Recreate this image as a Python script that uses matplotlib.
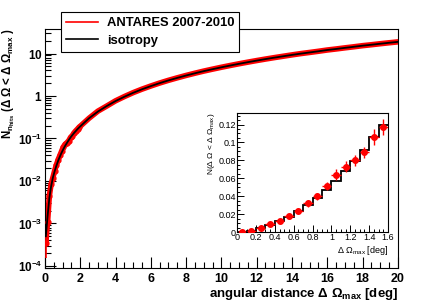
import matplotlib
matplotlib.use('Agg')
import matplotlib.pyplot as plt
import numpy as np
from matplotlib.ticker import MultipleLocator, FixedLocator, FuncFormatter, NullFormatter

plt.rcParams['font.family'] = ['Liberation Sans', 'DejaVu Sans']
plt.rcParams['mathtext.fontset'] = 'custom'
plt.rcParams['mathtext.rm'] = 'Liberation Sans'
plt.rcParams['mathtext.bf'] = 'Liberation Sans:bold'
plt.rcParams['mathtext.default'] = 'regular'

# fine bins (0.1 deg) up to 2 deg, coarser reading beyond
x_fine = [0.05, 0.15, 0.25, 0.35, 0.45, 0.55, 0.65, 0.75, 0.85, 0.95,
          1.05, 1.15, 1.25, 1.35, 1.45, 1.55, 1.65, 1.75, 1.85, 1.95]
iso_fine = [0.0005, 0.0015, 0.004, 0.0075, 0.012, 0.017, 0.023, 0.030, 0.038, 0.047,
            0.057, 0.068, 0.079, 0.092, 0.106, 0.120, 0.135, 0.150, 0.167, 0.184]
data_fine = [0.00035, 0.0011, 0.0045, 0.0085, 0.012, 0.0175, 0.024, 0.032, 0.040, 0.051,
             0.064, 0.073, 0.080, 0.089, 0.106, 0.117, 0.136, 0.152, 0.168, 0.186]
err_fine = [0.0002, 0.0008, 0.0015, 0.002, 0.0022, 0.0025, 0.003, 0.0035, 0.004, 0.0045,
            0.006, 0.006, 0.006, 0.006, 0.009, 0.009, 0.009, 0.01, 0.01, 0.011]

x_coarse = [2.5, 3, 3.5, 4, 4.5, 5, 5.5, 6, 6.5, 7, 7.5, 8, 8.5, 9, 9.5, 10,
            10.5, 11, 11.5, 12, 12.5, 13, 13.5, 14, 14.5, 15, 15.5, 16, 16.5,
            17, 17.5, 18, 18.5, 19, 19.5, 20]
iso_coarse = [0.30, 0.43, 0.58, 0.76, 0.96, 1.19, 1.44, 1.71, 2.01, 2.33, 2.67, 3.04,
              3.43, 3.85, 4.28, 4.74, 5.22, 5.73, 6.26, 6.82, 7.40, 8.00, 8.62, 9.28,
              9.95, 10.6, 11.3, 12.1, 12.8, 13.6, 14.4, 15.3, 16.1, 17.0, 17.9, 18.8]
data_coarse = [0.30, 0.44, 0.58, 0.77, 0.97, 1.20, 1.45, 1.72, 2.02, 2.34, 2.68, 3.05,
               3.44, 3.86, 4.29, 4.75, 5.23, 5.74, 6.27, 6.83, 7.41, 8.01, 8.63, 9.29,
               9.96, 10.6, 11.3, 12.1, 12.8, 13.6, 14.4, 15.3, 16.1, 17.0, 17.9, 18.8]

# inset: first 16 bins
ins_n = 16
ins_edges = [0.0, 0.1, 0.2, 0.3, 0.4, 0.5, 0.6, 0.7, 0.8, 0.9, 1.0, 1.1, 1.2, 1.3, 1.4, 1.5, 1.6]

fig = plt.figure(figsize=(4.45, 3.01), dpi=100)
ax = fig.add_axes([0.101, 0.110, 0.793, 0.794])

x_all = x_fine + x_coarse
ax.plot(x_all, data_fine + data_coarse, color='red', lw=4, solid_capstyle='round', zorder=2)
ax.errorbar(x_fine, data_fine, yerr=err_fine, xerr=0.05, fmt='o', color='red', ms=3.5,
            elinewidth=1.2, capsize=0, zorder=3)
ax.plot(x_all, iso_fine + iso_coarse, color='black', lw=1.3, zorder=4)

ax.set_yscale('log')
ax.set_xlim(0, 20)
ax.set_ylim(9e-5, 38)

ax.xaxis.set_major_locator(MultipleLocator(2))
ax.xaxis.set_minor_locator(MultipleLocator(0.5))
ax.yaxis.set_major_locator(FixedLocator([1e-4, 1e-3, 1e-2, 1e-1, 1, 10]))
ax.yaxis.set_minor_formatter(NullFormatter())


def ylab(v, pos):
    if v >= 1:
        return r'$\mathbf{%d}$' % int(round(v))
    return r'$\mathbf{10^{%d}}$' % int(round(np.log10(v)))


ax.yaxis.set_major_formatter(FuncFormatter(ylab))
ax.tick_params(which='both', direction='in', top=False, right=False, labelsize=9)
ax.tick_params(axis='y', labelsize=8.5, pad=2)
ax.tick_params(which='major', length=8, width=0.8)
ax.tick_params(which='minor', length=4, width=0.8)
for lab in ax.get_xticklabels():
    lab.set_fontweight('bold')

ax.set_xlabel(r'angular distance Δ Ω$_{max}$ [deg]', fontsize=9.5, fontweight='bold',
              loc='right', labelpad=1)
ax.set_ylabel(r'N$_{n_{hits}}$ (Δ Ω < Δ Ω$_{max}$ )', fontsize=8.3, fontweight='bold',
              loc='top')
ax.yaxis.set_label_coords(-0.078, 1.0)

# inset
axi = fig.add_axes([0.533, 0.229, 0.339, 0.396])
axi.stairs(iso_fine[:ins_n], ins_edges, color='black', lw=1.3, baseline=None, zorder=2)
axi.errorbar(x_fine[:ins_n], data_fine[:ins_n], yerr=err_fine[:ins_n], xerr=0.05, fmt='o',
             color='red', ms=4, elinewidth=1.0, capsize=0, zorder=3)
axi.set_xlim(0, 1.6)
axi.set_ylim(0, 0.133)
axi.xaxis.set_major_locator(MultipleLocator(0.2))
axi.xaxis.set_minor_locator(MultipleLocator(0.05))
axi.yaxis.set_major_locator(MultipleLocator(0.02))
axi.yaxis.set_minor_locator(MultipleLocator(0.005))
axi.xaxis.set_major_formatter(FuncFormatter(lambda v, p: '%g' % round(v, 2)))
axi.yaxis.set_major_formatter(FuncFormatter(lambda v, p: '%g' % round(v, 3)))
axi.tick_params(which='both', direction='in', top=False, right=False, labelsize=6.5, pad=1)
axi.tick_params(which='major', length=5, width=0.7)
axi.tick_params(which='minor', length=2.5, width=0.7)
axi.set_xlabel(r'Δ Ω$_{max}$ [deg]', fontsize=6.5, loc='right', labelpad=1)
axi.set_ylabel(r'N(Δ Ω < Δ Ω$_{max}$)', fontsize=6, loc='top', labelpad=1)

leg = fig.legend([plt.Line2D([], [], color='red', lw=1.2), plt.Line2D([], [], color='black', lw=1.2)],
                 ['ANTARES 2007-2010', 'isotropy'], loc='upper left',
                 bbox_to_anchor=(0.137, 0.96), borderaxespad=0, fancybox=False, framealpha=1,
                 edgecolor='black', prop={'weight': 'bold', 'size': 9.4},
                 handlelength=2.4, borderpad=0.4, labelspacing=0.4, handletextpad=0.7)
leg.get_frame().set_linewidth(0.8)

fig.savefig('out.png', dpi=100)
